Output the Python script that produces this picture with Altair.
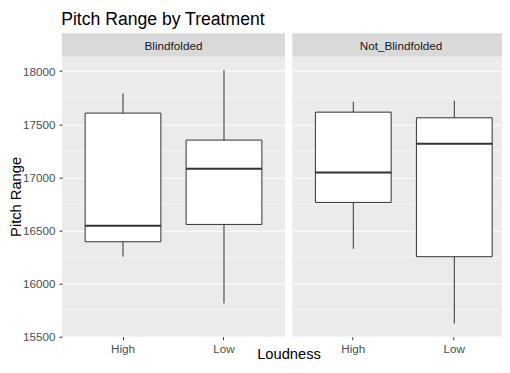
import altair as alt
import pandas as pd

chart_title = "Pitch Range by Treatment"
x_title = "Loudness"
y_title = "Pitch Range"
treatments = ["Blindfolded", "Not_Blindfolded"]
row_treatment = ["Blindfolded", "Blindfolded", "Not_Blindfolded", "Not_Blindfolded"]
loudness_levels = ["High", "Low"]
row_loudness = ["High", "Low", "High", "Low"]
whisker_low = [16253, 15814, 16328, 15623]
q1 = [16394, 16557, 16764, 16253]
median = [16545, 17081, 17047, 17317]
q3 = [17605, 17351, 17614, 17561]
whisker_high = [17790, 18010, 17712, 17721]
y_ticks = [15500, 16000, 16500, 17000, 17500, 18000]
y_minor = [15750, 16250, 16750, 17250, 17750]
y_domain = [15500, 18136]

df = pd.DataFrame({
    "Treatment": row_treatment,
    "Loudness": row_loudness,
    "lo": whisker_low,
    "q1": q1,
    "med": median,
    "q3": q3,
    "hi": whisker_high,
})

FONT = "Liberation Sans"
H = 280
STRIP = 23.4
INK = "#333333"


def text_layer(txt, x, y, size, color="black", align="left", angle=0):
    return alt.Chart(alt.Data(values=[{"t": txt}])).mark_text(
        font=FONT, fontSize=size, color=color, align=align,
        baseline="alphabetic", angle=angle
    ).encode(x=alt.value(x), y=alt.value(y), text="t:N")


def panel(name, width, first, pad_outer, align):
    d = df[df.Treatment == name]
    yscale = alt.Scale(domain=y_domain, nice=False, zero=False)
    if first:
        yaxis = alt.Axis(values=y_ticks, title=None, domain=False,
                         format="d", labelPadding=4)
    else:
        yaxis = alt.Axis(values=y_ticks, title=None, labels=False,
                         ticks=False, domain=False)
    xaxis = alt.Axis(title=None, labelAngle=0, bandPosition=0.5,
                     domain=False, labelPadding=4)
    xscale = alt.Scale(domain=loudness_levels, paddingInner=0,
                       paddingOuter=pad_outer, align=align)
    X = alt.X("Loudness:N", scale=xscale, axis=xaxis)

    minor = alt.Chart(alt.Data(values=[{"m": v} for v in y_minor])).mark_rule(
        color="white", strokeWidth=0.55
    ).encode(y=alt.Y("m:Q", scale=yscale, axis=yaxis))

    whisk = alt.Chart(d).mark_rule(color=INK, strokeWidth=1).encode(
        x=X, y=alt.Y("lo:Q", scale=yscale, axis=yaxis), y2="hi:Q"
    )
    box = alt.Chart(d).mark_bar(
        width=alt.RelativeBandSize(0.75), fill="white", stroke=INK, strokeWidth=1
    ).encode(x=X, y=alt.Y("q1:Q", scale=yscale, axis=yaxis), y2="q3:Q")
    med = alt.Chart(d).mark_tick(color=INK, thickness=2, size=76, opacity=1).encode(
        x=X, y=alt.Y("med:Q", scale=yscale, axis=yaxis)
    )
    strip_src = alt.Data(values=[{"t": name}])
    strip_rect = alt.Chart(strip_src).mark_rect(color="#D9D9D9").encode(
        x=alt.value(0), x2=alt.value(width), y=alt.value(-STRIP), y2=alt.value(0)
    )
    strip_text = alt.Chart(strip_src).mark_text(
        font=FONT, fontSize=11.7, color="#1A1A1A", baseline="middle", align="center"
    ).encode(x=alt.value(width / 2), y=alt.value(-STRIP / 2 + 0.5), text="t:N")

    layers = [minor, whisk, box, med, strip_rect, strip_text]
    if first:
        layers += [
            text_layer(chart_title, -0.8, -31.7, 17.6),
            text_layer(x_title, 227, 302.3, 14.7, align="center"),
            text_layer(y_title, -40.6, 140.2, 14.7, align="center", angle=270),
        ]
    return alt.layer(*layers).properties(width=width, height=H)


left = panel(treatments[0], 223, True, 0.104, 0.5)
right = panel(treatments[1], 217.5, False, 0.0767, 0.677)

chart = alt.hconcat(left, right, spacing=7.3, bounds="flush").properties(
    autosize=alt.AutoSizeParams(type="none"),
    padding={"left": 54, "top": 48.7, "right": 440, "bottom": 304.3},
).configure_view(fill="#EBEBEB", stroke=None).configure_axis(
    gridColor="white", gridWidth=1.1, gridOpacity=1,
    tickColor=INK, tickSize=3, tickWidth=1,
    labelColor="#4D4D4D", labelFont=FONT, labelFontSize=11.7,
)

chart.save("out.html", embed_options={"renderer": "svg", "actions": False})
